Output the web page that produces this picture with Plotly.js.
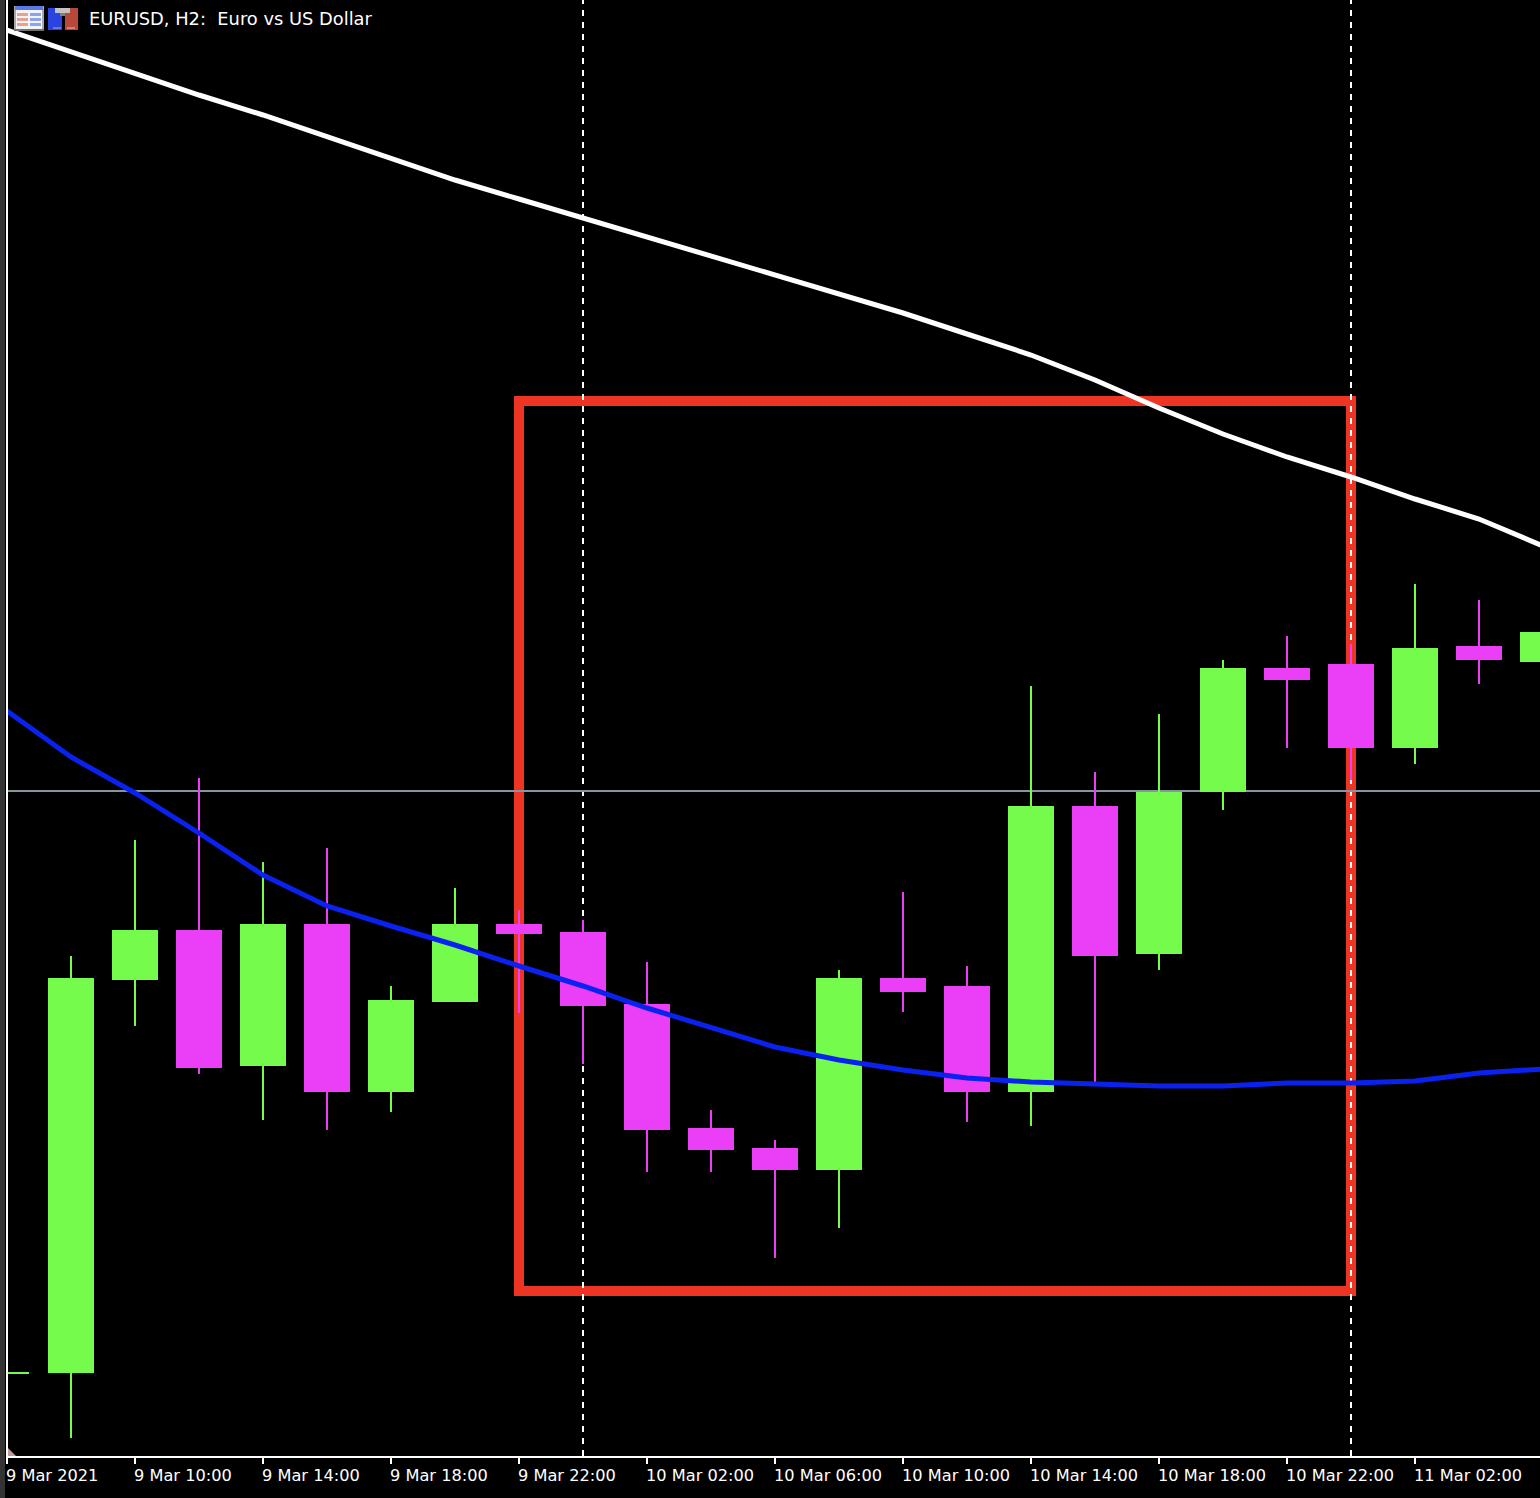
<!DOCTYPE html>
<html><head><meta charset="utf-8">
<script src="https://cdn.plot.ly/plotly-3.0.1.min.js"></script>
<style>html,body{margin:0;padding:0;background:#000;overflow:hidden}</style>
</head><body><div id="chart" style="width:1540px;height:1498px"></div>
<script>
const chartTitle = "EURUSD, H2:\u00a0\u00a0Euro vs US Dollar";
const times = ["2021-03-09 06:00","2021-03-09 08:00","2021-03-09 10:00","2021-03-09 12:00","2021-03-09 14:00","2021-03-09 16:00","2021-03-09 18:00","2021-03-09 20:00","2021-03-09 22:00","2021-03-10 00:00","2021-03-10 02:00","2021-03-10 04:00","2021-03-10 06:00","2021-03-10 08:00","2021-03-10 10:00","2021-03-10 12:00","2021-03-10 14:00","2021-03-10 16:00","2021-03-10 18:00","2021-03-10 20:00","2021-03-10 22:00","2021-03-11 00:00","2021-03-11 02:00","2021-03-11 04:00","2021-03-11 06:00"];
const opens  = [1.18418,1.18419,1.18812,1.18860,1.18726,1.18866,1.18700,1.18790,1.18866,1.18858,1.18786,1.18662,1.18642,1.18622,1.18812,1.18804,1.18700,1.18984,1.18838,1.19000,1.19122,1.19126,1.19044,1.19144,1.19130];
const highs  = [1.18418,1.18835,1.18951,1.19013,1.18929,1.18943,1.18805,1.18903,1.18881,1.18871,1.18829,1.18681,1.18651,1.18821,1.18899,1.18825,1.19105,1.19019,1.19077,1.19131,1.19155,1.19147,1.19207,1.19191,1.19158];
const lows   = [1.18418,1.18353,1.18765,1.18717,1.18671,1.18661,1.18679,1.18790,1.18778,1.18727,1.18619,1.18619,1.18533,1.18563,1.18779,1.18669,1.18665,1.18709,1.18821,1.18981,1.19043,1.19011,1.19027,1.19107,1.19130];
const closes = [1.18418,1.18812,1.18860,1.18724,1.18866,1.18700,1.18790,1.18866,1.18858,1.18786,1.18662,1.18642,1.18622,1.18812,1.18800,1.18700,1.18984,1.18836,1.18998,1.19122,1.19112,1.19044,1.19142,1.19132,1.19158];
const slowMA = [1.19761,1.19739,1.19718,1.19696,1.19676,1.19654,1.19633,1.19611,1.19592,1.19573,1.19554,1.19534,1.19515,1.19497,1.19478,1.19457,1.19436,1.19411,1.19383,1.19357,1.19334,1.19314,1.19292,1.19272,1.19245];
const fastMA = [1.19080,1.19034,1.18998,1.18958,1.18916,1.18885,1.18865,1.18846,1.18825,1.18805,1.18783,1.18763,1.18744,1.18731,1.18721,1.18713,1.18709,1.18707,1.18705,1.18705,1.18708,1.18708,1.18710,1.18718,1.18722];
const tickVals = ["2021-03-09 06:00","2021-03-09 10:00","2021-03-09 14:00","2021-03-09 18:00","2021-03-09 22:00","2021-03-10 02:00","2021-03-10 06:00","2021-03-10 10:00","2021-03-10 14:00","2021-03-10 18:00","2021-03-10 22:00","2021-03-11 02:00"];
const tickLabels = ["9 Mar 2021","9 Mar 10:00","9 Mar 14:00","9 Mar 18:00","9 Mar 22:00","10 Mar 02:00","10 Mar 06:00","10 Mar 10:00","10 Mar 14:00","10 Mar 18:00","10 Mar 22:00","11 Mar 02:00"];
const separators = ["2021-03-10 00:00","2021-03-11 00:00"];
const bidPrice = 1.19000;
const zone = {t0:"2021-03-09 22:00", t1:"2021-03-11 00:00", p0:1.18500, p1:1.19390};
const xRange = ["2021-03-09 06:00","2021-03-11 05:54:22"];
const yRange = [1.18335,1.19791];

const GREEN="#75fb4c", MAGENTA="#ea3ff7", BLUE="#0a22f0", RED="#ee3524", GREY="#8496a0";
const W=1540,H=1498,L=7,B=42;
const px=x=>(x-L)/(W-L), py=y=>1-y/(H-B);

const icon1=`<svg xmlns="http://www.w3.org/2000/svg" width="30" height="25" shape-rendering="crispEdges"><rect width="30" height="25" fill="#a8a8a8"/><rect x="1" y="0" width="28" height="4" fill="#5a78e8"/><rect x="2" y="4" width="26" height="19" fill="#f4f4f4"/><rect x="3" y="7" width="11" height="3" fill="#e8a090"/><rect x="3" y="12" width="11" height="3" fill="#e8a090"/><rect x="3" y="17" width="11" height="3" fill="#e8a090"/><rect x="16" y="7" width="11" height="3" fill="#8aa4ee"/><rect x="16" y="12" width="11" height="3" fill="#8aa4ee"/><rect x="16" y="17" width="11" height="3" fill="#8aa4ee"/><rect x="0" y="23" width="30" height="2" fill="#707070"/></svg>`;
const icon2=`<svg xmlns="http://www.w3.org/2000/svg" width="30" height="22" shape-rendering="crispEdges"><rect width="15" height="22" fill="#2a44e0"/><rect x="15" width="15" height="22" fill="#b8493a"/><rect x="14" y="6" width="3" height="16" fill="#000"/><rect x="7" y="0" width="15" height="5" fill="#c4c4c4"/><rect x="12" y="5" width="5" height="3" fill="#808080"/><rect x="5" y="19" width="8" height="2" fill="#6078e8"/><rect x="19" y="19" width="8" height="2" fill="#d88070"/></svg>`;
const uri=s=>"data:image/svg+xml;base64,"+btoa(s);

const traces=[
 {type:"candlestick",x:times,open:opens,high:highs,low:lows,close:closes,whiskerwidth:0,
  increasing:{line:{color:GREEN,width:2},fillcolor:GREEN},
  decreasing:{line:{color:MAGENTA,width:2},fillcolor:MAGENTA},hoverinfo:"skip"},
 {type:"scatter",mode:"lines",x:times,y:slowMA,line:{color:"#ffffff",width:5},hoverinfo:"skip"},
 {type:"scatter",mode:"lines",x:times,y:fastMA,line:{color:BLUE,width:5},hoverinfo:"skip"}
];
const shapes=[
 {type:"rect",layer:"below",xref:"x",yref:"y",x0:zone.t0,x1:zone.t1,y0:zone.p0,y1:zone.p1,line:{color:RED,width:10},fillcolor:"rgba(0,0,0,0)"},
 ...separators.map(t=>({type:"line",layer:"below",xref:"x",yref:"y",x0:t,x1:t,y0:yRange[0],y1:yRange[1],line:{color:"#ffffff",width:2,dash:"6px,6px"}})),
 {type:"line",layer:"below",xref:"x",yref:"y",x0:xRange[0],x1:xRange[1],y0:bidPrice,y1:bidPrice,line:{color:GREY,width:2}},
 {type:"line",layer:"above",xref:"paper",yref:"paper",x0:px(7),x1:px(7),y0:py(1458),y1:1,line:{color:"#ffffff",width:2}},
 {type:"rect",layer:"above",xref:"paper",yref:"paper",x0:px(0),x1:px(5),y0:py(1498),y1:1,line:{width:0},fillcolor:"#333333"},
 {type:"path",layer:"above",xref:"paper",yref:"paper",path:`M ${px(8)} ${py(1456)} L ${px(16)} ${py(1456)} L ${px(8)} ${py(1448)} Z`,line:{width:0},fillcolor:"#c09a9a"}
];
const layout={
 width:W,height:H,paper_bgcolor:"#000",plot_bgcolor:"#000",showlegend:false,boxgap:0.3125,boxgroupgap:0,
 margin:{l:L,r:0,t:0,b:B,pad:0},
 title:{text:chartTitle,font:{family:"DejaVu Sans",size:17.85,color:"#fff"},x:89/W,xanchor:"left",xref:"container",y:1-19/H,yanchor:"middle",pad:{t:0,b:0,l:0,r:0}},
 xaxis:{type:"date",range:xRange,rangeslider:{visible:false},showgrid:false,zeroline:false,showline:true,linecolor:"#fff",linewidth:2,
  tickmode:"array",tickvals:tickVals,ticktext:tickLabels,ticks:"outside",ticklen:6,tickwidth:2,tickcolor:"#fff",
  ticklabelposition:"outside right",ticklabelshift:-3,ticklabelstandoff:4,tickangle:0,automargin:false,tickfont:{family:"DejaVu Sans",size:16.2,color:"#fff"}},
 yaxis:{range:yRange,showgrid:false,zeroline:false,showticklabels:false,ticks:"",showline:false,automargin:false},
 shapes:shapes,
 images:[
  {source:uri(icon1),xref:"paper",yref:"paper",x:px(14),y:py(6),sizex:30/(W-L),sizey:25/(H-B),xanchor:"left",yanchor:"top",sizing:"stretch",layer:"above"},
  {source:uri(icon2),xref:"paper",yref:"paper",x:px(48),y:py(8),sizex:30/(W-L),sizey:22/(H-B),xanchor:"left",yanchor:"top",sizing:"stretch",layer:"above"}
 ]
};
Plotly.newPlot("chart",traces,layout,{staticPlot:true,displayModeBar:false});
</script></body></html>
